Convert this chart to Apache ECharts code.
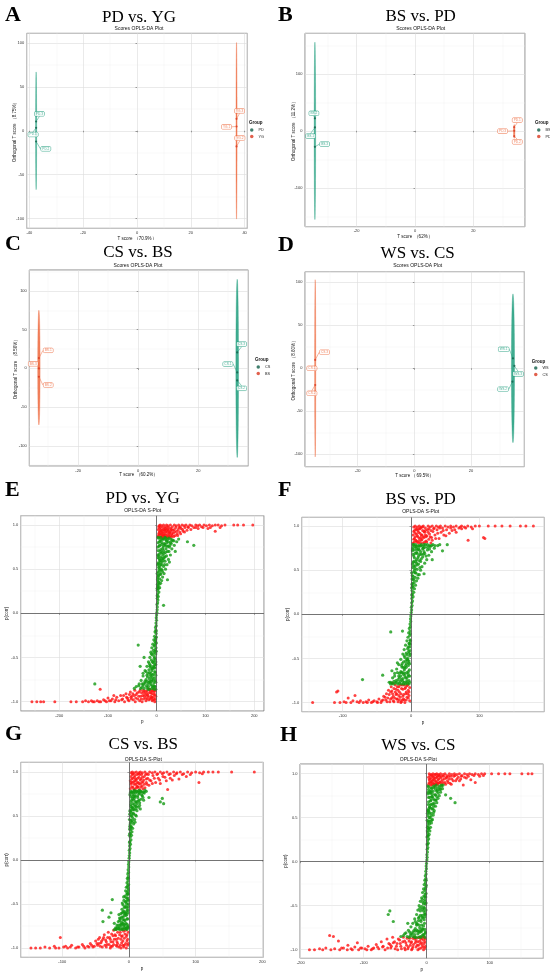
<!DOCTYPE html>
<html>
<head>
<meta charset="utf-8">
<script src="https://cdn.jsdelivr.net/npm/echarts@6/dist/echarts.min.js"></script>
<style>
html, body { margin: 0; padding: 0; background: #fff; }
#wrap { position: relative; width: 550px; height: 976px; overflow: hidden; background: #fff; }
.p { position: absolute; width: 275px; }
</style>
</head>
<body>
<div id="wrap">
  <div class="p" id="pA" style="left:0;top:0;height:240px"></div>
  <div class="p" id="pB" style="left:275px;top:0;height:240px"></div>
  <div class="p" id="pC" style="left:0;top:235px;height:245px"></div>
  <div class="p" id="pD" style="left:275px;top:235px;height:245px"></div>
  <div class="p" id="pE" style="left:0;top:480px;height:245px"></div>
  <div class="p" id="pF" style="left:275px;top:480px;height:245px"></div>
  <div class="p" id="pG" style="left:0;top:725px;height:251px"></div>
  <div class="p" id="pH" style="left:275px;top:725px;height:251px"></div>
</div>
<script>
// ---------- score plots: groups, sample scores [T score, orthogonal T score] ----------
var groupsA = ['PD', 'YG'];
var pointsA_PD = [[-37.5, 10.6], [-37.5, 3.4], [-37.5, -12.2]];
var pointsA_YG = [[37.0, 13.6], [37.0, 4.9], [37.0, -17.8]];
var labelsA_PD = ['PD.3', 'PD.1', 'PD.2'];
var labelsA_YG = ['YG.3', 'YG.1', 'YG.2'];
var ellipseA = [[-37.5, 0, 0.2, 67], [37.0, 0, 0.2, 100.5]]; // cx, cy, half width, half height

var groupsB = ['BS', 'PD'];
var pointsB_BS = [[-34.3, 22], [-34.3, 6], [-34.3, -28]];
var pointsB_PD = [[34.0, 6.5], [34.0, 0], [34.0, -9.3]];
var labelsB_BS = ['BS.2', 'BS.1', 'BS.3'];
var labelsB_PD = ['PD.1', 'PD.3', 'PD.2'];
var ellipseB = [[-34.3, 0, 0.25, 155.5], [34.0, -1, 0.25, 12]];

var groupsC = ['CS', 'BS'];
var pointsC_CS = [[33.0, 20.6], [33.0, -5.2], [33.0, -15.5]];
var pointsC_BS = [[-33.1, 13.3], [-33.1, 0], [-33.1, -10.8]];
var labelsC_CS = ['CS.3', 'CS.1', 'CS.2'];
var labelsC_BS = ['BS.1', 'BS.3', 'BS.2'];
var ellipseC = [[33.0, 0, 0.45, 115], [-33.1, 1, 0.4, 74]];

var groupsD = ['WS', 'CS'];
var pointsD_WS = [[34.8, 11.6], [35.3, 2.7], [34.6, -15.5]];
var pointsD_CS = [[-35.0, 9.7], [-35.0, -0.8], [-35.0, -19.4]];
var labelsD_WS = ['WS.1', 'WS.3', 'WS.2'];
var labelsD_CS = ['CS.3', 'CS.1', 'CS.2'];
var ellipseD = [[34.8, 0, 0.55, 86.5], [-35.0, 0, 0.2, 103]];

// ---------- S-plots: [p, p(corr)] ----------
var splotE_red = [
  [3,0.87],[5,0.92],[6,0.96],[8,0.89],[9,0.94],[11,0.87],[12,0.91],[13,0.97],[15,0.89],[16,0.94],[18,0.86],[19,0.92],
  [21,0.97],[22,0.89],[24,0.94],[26,0.87],[27,0.91],[29,0.96],[31,0.9],[33,0.94],[35,0.87],[37,0.92],[39,0.97],[42,0.9],
  [44,0.95],[47,0.92],[50,0.96],[54,0.93],[58,0.97],[62,0.94],[4,0.98],[7,1.0],[10,0.99],[14,1.0],[17,0.98],[20,1.0],
  [23,0.99],[28,1.0],[32,0.98],[36,1.0],[40,0.99],[45,1.0],[48,0.98],[52,1.0],[56,0.99],[60,1.0],[64,0.98],[68,1.0],
  [72,0.99],[76,0.97],[80,1.0],[84,0.99],[88,1.0],[92,0.98],[97,1.0],[102,0.99],[108,1.0],[114,0.99],[120,1.0],[126,1.0],
  [133,0.99],[140,1.0],[158,1.0],[166,1.0],[178,1.0],[197,1.0],[70,0.95],[85,0.96],[110,0.97],[120,0.93],[4,0.9],[7,0.86],
  [10,0.92],[14,0.88],[17,0.95],[25,0.9],[30,0.86],
  [3,0.95],[4,0.88],[5,0.99],[6,0.9],[7,0.93],[8,0.97],[9,0.86],[10,0.9],[11,0.94],[12,0.88],[13,0.85],[14,0.95],[15,0.92],
  [16,0.87],[17,0.9],[18,0.96],[19,0.88],[20,0.94],[21,0.86],[22,0.92],[23,0.95],[24,0.87],[25,0.97],[26,0.92],[28,0.88],
  [29,0.93],[30,0.95],[32,0.88],[34,0.91],[36,0.95],[38,0.88],[41,0.93],[43,0.88],[46,0.97],[49,0.9],[53,0.95],[57,0.92],
  [65,0.97],[80,0.97],[95,0.97],[105,0.96],[130,0.97],
  [-256,-1],[-246,-1],[-238,-1],[-232,-1],[-209,-1],[-176,-1],[-165,-1],[-152,-1],[-146,-0.99],[-140,-1],[-134,-0.99],
  [-128,-1],[-122,-0.99],[-116,-0.86],[-115,-1],[-109,-0.98],[-103,-1],[-97,-0.99],[-91,-0.97],[-86,-1],[-82,-0.95],
  [-78,-0.99],[-74,-0.93],[-70,-0.97],[-66,-1],[-63,-0.91],[-60,-0.96],[-57,-0.99],[-54,-0.89],[-51,-0.94],[-48,-0.98],
  [-45,-0.87],[-42,-0.92],[-39,-0.97],[-36,-0.89],[-33,-0.94],[-30,-1.0],[-28,-0.87],[-25,-0.91],[-23,-0.96],[-20,-0.88],
  [-18,-0.93],[-16,-0.98],[-14,-0.86],[-12,-0.9],[-10,-0.95],[-8,-0.87],[-6,-0.92],[-5,-0.98],[-3,-0.88],[-2,-0.94],
  [-4,-1.0],[-9,-0.99],[-13,-0.97],[-22,-0.99],[-27,-0.97],[-35,-0.99],[-44,-1.0],[-52,-0.97],[-68,-0.93],[-88,-0.93],[-100,-0.96],
  [-3,-0.97],[-4,-0.92],[-5,-0.86],[-6,-0.89],[-7,-0.95],[-8,-0.98],[-9,-0.88],[-10,-0.91],[-11,-0.96],[-12,-0.94],
  [-13,-0.88],[-15,-0.9],[-16,-0.86],[-17,-0.95],[-19,-0.92],[-20,-0.97],[-21,-0.9],[-22,-0.93],[-24,-0.88],[-26,-0.94],
  [-27,-0.89],[-29,-0.93],[-31,-0.9],[-32,-0.97],[-34,-0.87],[-37,-0.94],[-40,-0.9],[-43,-0.96],[-46,-0.93],[-49,-0.91],
  [-53,-0.95],[-56,-0.92],[-59,-0.98],[-62,-0.95],[-72,-0.98],[-84,-0.98],[-94,-0.99],[-106,-0.99],[-118,-1.0],[-131,-1.0]
];
var splotE_green = [
  [0.3,0.01],[0.8,0.04],[1.2,0.07],[0.6,0.1],[1.8,0.12],[2.5,0.15],[1.2,0.17],[3.2,0.19],[2,0.22],[4.5,0.24],[1.5,0.26],
  [3.5,0.28],[6,0.29],[2.5,0.31],[5,0.33],[8,0.34],[3,0.36],[10,0.37],[6,0.39],[1.8,0.4],[12,0.41],[4,0.43],[8,0.44],
  [15,0.45],[2.5,0.47],[6,0.48],[11,0.49],[18,0.5],[4,0.52],[14,0.53],[8,0.55],[21,0.55],[3,0.57],[11,0.58],[17,0.59],
  [6,0.6],[24,0.61],[13,0.62],[3,0.63],[9,0.64],[20,0.65],[28,0.66],[5,0.67],[15,0.68],[11,0.69],[25,0.7],[3,0.71],
  [8,0.72],[19,0.73],[31,0.73],[13,0.75],[5,0.76],[23,0.76],[36,0.77],[10,0.78],[16,0.79],[28,0.8],[3,0.8],[41,0.81],
  [7,0.82],[20,0.82],[33,0.83],[12,0.84],[25,0.85],[4,0.85],[45,0.84],[17,0.86],[63,0.81],[76,0.77],[22,0.38],[14,0.09],
  [9,0.5],[26,0.58],[38,0.7],
  [1,0.2],[2,0.3],[4,0.35],[7,0.45],[10,0.55],[13,0.6],[5,0.62],[17,0.64],[22,0.7],[7,0.7],[26,0.75],[15,0.77],[30,0.79],
  [19,0.83],[9,0.83],[35,0.82],[2,0.66],[12,0.47],[16,0.55],[21,0.8],[29,0.84],[6,0.77],[14,0.71],[24,0.81],
  [1.5,0.33],[3,0.42],[5,0.5],[2,0.55],[7,0.58],[4,0.65],[9,0.68],[12,0.73],[2,0.75],[17,0.78],[6,0.81],[11,0.8],[23,0.84],
  [14,0.84],[8,0.86],[3,0.86],[18,0.69],[10,0.62],[15,0.63],[27,0.77],[1,0.45],[6,0.53],[20,0.76],[31,0.82],[0.8,0.28],
  [1.5,0.38],[4,0.56],[8,0.6],[13,0.66],[18,0.85],
  [-0.3,-0.02],[-0.9,-0.05],[-0.5,-0.08],[-1.5,-0.11],[-1,-0.14],[-2.5,-0.16],[-1.8,-0.19],[-3.5,-0.21],[-1.2,-0.23],
  [-4.5,-0.26],[-2.5,-0.28],[-6,-0.3],[-3.5,-0.32],[-1.5,-0.34],[-8,-0.35],[-5,-0.37],[-10,-0.39],[-3,-0.41],[-7,-0.42],
  [-12,-0.44],[-2,-0.46],[-9,-0.47],[-5,-0.49],[-14,-0.5],[-3,-0.52],[-11,-0.53],[-17,-0.55],[-7,-0.56],[-2,-0.58],
  [-13,-0.59],[-20,-0.6],[-5,-0.61],[-9,-0.63],[-16,-0.64],[-24,-0.65],[-3,-0.67],[-12,-0.68],[-7,-0.69],[-20,-0.7],
  [-28,-0.71],[-4,-0.73],[-15,-0.74],[-10,-0.75],[-32,-0.76],[-24,-0.77],[-2,-0.78],[-6,-0.79],[-18,-0.8],[-36,-0.8],
  [-12,-0.81],[-28,-0.82],[-3,-0.83],[-42,-0.83],[-8,-0.84],[-20,-0.84],[-33,-0.85],[-15,-0.86],[-46,-0.85],[-5,-0.86],
  [-38,-0.36],[-127,-0.8],[-34,-0.6],[-26,-0.5],[-22,-0.66],
  [-1,-0.2],[-2,-0.3],[-4,-0.36],[-6,-0.45],[-9,-0.55],[-12,-0.62],[-4,-0.62],[-15,-0.67],[-19,-0.72],[-7,-0.76],
  [-24,-0.79],[-13,-0.79],[-30,-0.8],[-17,-0.83],[-9,-0.82],[-37,-0.82],[-2,-0.7],[-11,-0.46],[-15,-0.57],[-22,-0.75],
  [-26,-0.85],[-5,-0.83],[-12,-0.72],[-28,-0.68],
  [-1.5,-0.33],[-3,-0.43],[-5,-0.51],[-2,-0.55],[-7,-0.6],[-4,-0.66],[-9,-0.7],[-11,-0.77],[-3,-0.76],[-16,-0.78],
  [-6,-0.82],[-10,-0.85],[-21,-0.82],[-14,-0.77],[-8,-0.73],[-2,-0.86],[-18,-0.68],[-10,-0.65],[-14,-0.6],[-27,-0.8],
  [-1,-0.43],[-6,-0.54],[-20,-0.77],[-31,-0.84],[-0.8,-0.27],[-1.5,-0.39],[-4,-0.58],[-8,-0.62],[-13,-0.7],[-18,-0.86]
];

var splotF_red = [
  [3,0.81],[5,0.86],[6,0.92],[7,0.97],[8,0.83],[9,0.89],[10,0.95],[11,0.81],[12,0.86],[13,0.92],[14,0.98],[15,0.84],
  [16,0.9],[17,0.95],[18,0.81],[19,0.87],[20,0.93],[22,0.83],[23,0.89],[24,0.96],[26,0.85],[27,0.91],[29,0.81],[30,0.87],
  [32,0.94],[35,0.9],[38,0.96],[41,0.86],[44,0.93],[48,0.9],[52,0.96],[56,0.92],[60,0.95],[66,0.93],[74,0.97],[4,0.99],
  [6,1.0],[9,0.99],[12,1.0],[15,0.99],[18,1.0],[21,0.98],[25,1.0],[28,0.99],[31,1.0],[34,0.98],[37,1.0],[40,0.99],[43,1.0],
  [46,0.98],[50,1.0],[54,0.99],[58,1.0],[62,0.99],[66,1.0],[70,0.98],[74,1.0],[78,0.99],[83,1.0],[88,0.99],[94,1.0],
  [100,1.0],[113,1.0],[123,1.0],[133,1.0],[145,1.0],[160,1.0],[168,1.0],[179,1.0],[83.5,0.84],[106,0.87],[108,0.86],
  [4,0.85],[5,0.95],[8,0.91],[11,0.97],[14,0.87],[21,0.9],
  [3,0.9],[4,0.94],[5,0.82],[6,0.88],[7,0.84],[8,0.96],[9,0.82],[10,0.88],[11,0.93],[12,0.83],[13,0.97],[14,0.81],[15,0.9],
  [16,0.85],[17,0.99],[18,0.88],[19,0.94],[20,0.82],[21,0.95],[22,0.88],[23,0.82],[25,0.93],[26,0.97],[28,0.88],[29,0.95],
  [31,0.84],[33,0.97],[36,0.86],[39,0.92],[42,0.98],[47,0.95],[51,0.89],[58,0.98],[64,0.96],[72,0.99],[80,0.98],[90,0.97],
  [-144,-1],[-112,-1],[-109,-0.88],[-107,-0.87],[-104,-1],[-98,-0.99],[-92,-0.95],[-88,-1],[-82,-0.92],[-79,-0.99],
  [-74,-0.98],[-70,-1],[-66,-0.99],[-62,-0.97],[-58,-1],[-54,-0.98],[-50,-0.99],[-47,-0.96],[-44,-1],[-41,-0.97],
  [-38,-0.94],[-35,-0.99],[-32,-0.91],[-30,-0.96],[-29,-0.82],[-28,-0.87],[-26,-0.93],[-25,-0.99],[-23,-0.8],[-22,-0.85],
  [-21,-0.9],[-20,-0.96],[-18,-0.82],[-17,-0.88],[-16,-0.94],[-15,-1.0],[-13,-0.8],[-12,-0.85],[-11,-0.91],[-10,-0.97],
  [-8,-0.83],[-7,-0.88],[-6,-0.94],[-5,-0.8],[-4,-0.86],[-3,-0.92],[-2,-0.98],[-9,-1.0],[-14,-0.99],[-19,-0.99],
  [-27,-0.78],[-33,-0.86],[-36,-0.9],[-40,-0.93],[-13,-0.97],
  [-2,-0.83],[-3,-0.88],[-4,-0.95],[-5,-0.9],[-6,-0.81],[-7,-0.97],[-8,-0.9],[-9,-0.84],[-10,-0.8],[-11,-0.96],[-12,-0.93],
  [-14,-0.84],[-15,-0.9],[-16,-0.8],[-17,-0.97],[-18,-0.92],[-19,-0.86],[-20,-0.82],[-21,-0.96],[-22,-0.91],[-23,-0.88],
  [-24,-0.95],[-25,-0.84],[-26,-0.98],[-27,-0.9],[-28,-0.95],[-30,-0.88],[-31,-0.99],[-34,-0.95],[-37,-0.97],[-43,-0.98],
  [-49,-1.0],[-56,-0.99],[-64,-1.0],[-76,-1.0],[-85,-0.98],[-95,-1.0]
];
var splotF_green = [
  [0.3,0.02],[0.8,0.05],[0.5,0.08],[1.5,0.1],[1,0.13],[2.2,0.15],[1.2,0.18],[3,0.2],[2,0.23],[4,0.25],[1.5,0.27],[5,0.29],
  [3,0.31],[6.5,0.33],[2,0.35],[4.5,0.36],[8,0.38],[3,0.4],[10,0.41],[6,0.42],[1.8,0.44],[12,0.45],[7,0.47],[19,0.46],
  [4,0.48],[14,0.5],[9,0.51],[2.5,0.53],[16,0.54],[6,0.55],[11,0.57],[20,0.58],[3.5,0.59],[14,0.6],[8,0.62],[23,0.62],
  [5,0.64],[17,0.65],[11,0.66],[26,0.67],[3,0.68],[20,0.69],[8,0.7],[14,0.71],[30,0.71],[5,0.73],[24,0.73],[11,0.74],
  [34,0.75],[18,0.75],[3,0.76],[8,0.77],[28,0.77],[39,0.78],[14,0.78],[21,0.79],[4,0.79],[42,0.79],[46,0.72],[53,0.79],
  [31,0.62],
  [1,0.22],[2,0.32],[4,0.39],[6,0.47],[9,0.56],[12,0.61],[4,0.6],[15,0.68],[19,0.71],[6,0.69],[24,0.76],[12,0.77],[30,0.78],
  [17,0.77],[9,0.73],[35,0.78],[2,0.72],[10,0.45],[13,0.53],[22,0.66],[27,0.74],[7,0.79],
  [1.5,0.34],[3,0.43],[5,0.5],[2,0.57],[7,0.6],[4,0.66],[9,0.69],[12,0.73],[2,0.74],[17,0.74],[6,0.77],[11,0.78],[24,0.79],
  [15,0.79],[8,0.75],[3,0.79],[18,0.68],[10,0.64],[15,0.63],[27,0.78],[1,0.47],[6,0.52],[20,0.76],[32,0.79],[0.8,0.3],
  [1.5,0.4],[4,0.55],[8,0.58],[13,0.68],[19,0.79],
  [-0.3,-0.02],[-0.8,-0.05],[-0.5,-0.08],[-1.5,-0.11],[-1,-0.14],[-2.5,-0.16],[-1.5,-0.19],[-3.5,-0.21],[-29.7,-0.2],
  [-12.5,-0.19],[-2,-0.24],[-4.5,-0.26],[-1.5,-0.29],[-6,-0.3],[-3,-0.33],[-8,-0.35],[-2,-0.37],[-5,-0.39],[-10,-0.4],
  [-3.5,-0.42],[-7,-0.44],[-12,-0.45],[-2,-0.47],[-9,-0.49],[-5,-0.5],[-15,-0.51],[-3,-0.53],[-11,-0.54],[-7,-0.56],
  [-18,-0.57],[-4,-0.58],[-13,-0.6],[-9,-0.61],[-21,-0.62],[-2.5,-0.63],[-15,-0.65],[-6,-0.66],[-24,-0.67],[-11,-0.68],
  [-4,-0.7],[-18,-0.7],[-27,-0.72],[-8,-0.72],[-14,-0.74],[-3,-0.75],[-22,-0.75],[-30,-0.77],[-10,-0.77],[-5,-0.78],
  [-17,-0.78],[-26,-0.79],[-41.5,-0.69],[-71,-0.74],[-20,-0.55],[-28,-0.64],
  [-1,-0.22],[-2,-0.33],[-4,-0.37],[-6,-0.46],[-8,-0.53],[-11,-0.6],[-4,-0.65],[-14,-0.66],[-17,-0.72],[-6,-0.72],
  [-21,-0.77],[-12,-0.76],[-28,-0.78],[-15,-0.7],[-9,-0.67],[-32,-0.77],[-2,-0.7],[-10,-0.47],[-13,-0.56],[-20,-0.66],
  [-24,-0.7],[-7,-0.77],
  [-1.5,-0.34],[-3,-0.44],[-5,-0.52],[-2,-0.56],[-7,-0.6],[-4,-0.68],[-9,-0.7],[-12,-0.73],[-2,-0.77],[-16,-0.76],
  [-6,-0.75],[-11,-0.79],[-23,-0.78],[-14,-0.79],[-8,-0.79],[-3,-0.79],[-17,-0.67],[-10,-0.63],[-14,-0.58],[-25,-0.76],
  [-1,-0.45],[-6,-0.51],[-19,-0.74],[-30,-0.79],[-0.8,-0.3],[-1.5,-0.41],[-4,-0.55],[-8,-0.58],[-12,-0.66],[-19,-0.79]
];

var splotG_red = [
  [2,0.81],[3,0.86],[4,0.92],[5,0.97],[6,0.83],[7,0.89],[8,0.94],[9,0.8],[10,0.86],[11,0.91],[12,0.97],[13,0.83],[14,0.88],
  [15,0.94],[16,0.8],[17,0.86],[18,0.92],[19,0.97],[20,0.84],[21,0.89],[23,0.95],[24,0.82],[26,0.88],[28,0.93],[30,0.85],
  [33,0.9],[36,0.96],[40,0.88],[44,0.93],[47,0.87],[51,0.95],[56,0.9],[58,0.8],[62,0.93],[68,0.96],[75,0.92],[86,0.95],
  [105,0.88],[3,0.99],[5,1.0],[8,0.99],[11,1.0],[14,0.98],[17,1.0],[20,0.99],[24,1.0],[27,0.98],[31,1.0],[35,0.99],[39,1.0],
  [43,0.98],[47,1.0],[52,0.99],[57,1.0],[62,0.98],[67,1.0],[72,0.99],[77,1.0],[82,0.98],[88,1.0],[94,0.99],[100,1.0],
  [106,0.99],[112,1.0],[119,1.0],[126,1.0],[134,1.0],[154,1.0],[188,1.0],[3,0.88],[6,0.93],[9,0.9],[12,0.84],[15,0.99],
  [2,0.9],[3,0.95],[4,0.83],[5,0.88],[6,0.98],[7,0.81],[8,0.86],[9,0.96],[10,0.92],[11,0.82],[12,0.88],[13,0.93],[14,0.83],
  [15,0.87],[16,0.97],[17,0.91],[18,0.83],[19,0.88],[20,0.94],[21,0.81],[22,0.91],[23,0.86],[25,0.97],[26,0.92],[27,0.86],
  [29,0.97],[31,0.91],[35,0.87],[38,0.93],[42,0.97],[46,0.91],[50,0.98],[54,0.94],[60,0.97],[65,0.91],[71,0.98],[80,0.97],
  [92,0.97],[110,0.98],
  [-147,-1],[-140,-1],[-133,-1],[-126,-0.99],[-119,-1],[-112,-0.98],[-103,-0.88],[-105,-1],[-98,-0.99],[-92,-1],
  [-86,-0.97],[-80,-1],[-75,-0.99],[-70,-0.96],[-66,-1],[-62,-0.98],[-58,-0.95],[-54,-0.99],[-50,-0.92],[-47,-0.97],
  [-44,-0.88],[-42,-0.94],[-40,-0.99],[-37,-0.85],[-35,-0.91],[-33,-0.96],[-31,-0.82],[-29,-0.88],[-27,-0.93],[-25,-0.98],
  [-23,-0.8],[-21,-0.85],[-19,-0.9],[-17,-0.95],[-15,-0.99],[-13,-0.82],[-11,-0.87],[-9,-0.92],[-7,-0.97],[-5,-0.8],
  [-3,-0.85],[-2,-0.9],[-1,-0.95],[-4,-1.0],[-8,-0.99],[-12,-1.0],[-18,-0.98],[-24,-0.86],[-28,-1.0],[-34,-0.99],
  [-39,-0.9],[-45,-0.95],[-20,-0.79],[-10,-0.79],
  [-1,-0.82],[-2,-0.97],[-3,-0.92],[-4,-0.87],[-5,-0.95],[-6,-0.84],[-7,-0.89],[-8,-0.81],[-9,-0.97],[-10,-0.86],[-11,-0.94],
  [-12,-0.9],[-13,-0.97],[-14,-0.85],[-16,-0.89],[-17,-0.82],[-18,-0.93],[-19,-0.97],[-20,-0.86],[-22,-0.9],[-23,-0.96],
  [-24,-0.93],[-26,-0.84],[-27,-0.98],[-28,-0.9],[-30,-0.96],[-32,-0.88],[-34,-0.93],[-36,-0.97],[-38,-0.88],[-41,-0.92],
  [-43,-0.98],[-46,-0.9],[-48,-0.95],[-52,-0.98],[-56,-0.97],[-60,-0.99],[-68,-0.98],[-77,-0.99],[-88,-0.99],[-95,-0.98],
  [-110,-1.0]
];
var splotG_green = [
  [0.3,0.02],[0.6,0.05],[1,0.08],[0.5,0.11],[1.6,0.13],[1,0.16],[2.2,0.18],[1.4,0.21],[3,0.23],[2,0.26],[3.8,0.28],
  [1.5,0.3],[4.5,0.32],[2.5,0.34],[5.5,0.36],[3.5,0.38],[1.8,0.4],[7,0.41],[4.5,0.43],[2.5,0.45],[8.5,0.46],[5.5,0.48],
  [3,0.5],[10,0.51],[6.5,0.53],[2,0.55],[12,0.56],[8,0.57],[4,0.59],[14,0.6],[9.5,0.61],[2.5,0.63],[6,0.64],[16,0.65],
  [11,0.66],[4,0.68],[18,0.69],[8,0.7],[13,0.71],[2.5,0.72],[20,0.73],[6,0.74],[15,0.75],[10,0.76],[23,0.76],[4,0.77],
  [18,0.78],[12,0.78],[26,0.78],[8,0.78],[30,0.71],[50,0.7],[52,0.64],[47,0.66],[22,0.68],[17,0.58],
  [0.8,0.2],[1.8,0.3],[3,0.37],[5,0.45],[7,0.52],[10,0.58],[3,0.61],[12,0.64],[15,0.68],[5,0.7],[19,0.74],[9,0.73],
  [22,0.77],[14,0.77],[7,0.76],[2,0.76],[1.2,0.52],[9,0.43],[11,0.5],[16,0.62],[21,0.71],[6,0.57],
  [1,0.35],[2,0.42],[4,0.5],[1.5,0.56],[5,0.6],[3,0.66],[7,0.68],[9,0.72],[1.5,0.74],[13,0.73],[5,0.77],[8,0.79],[17,0.78],
  [11,0.78],[6,0.72],[3,0.78],[14,0.67],[8,0.63],[11,0.61],[20,0.77],[0.8,0.46],[4,0.53],[16,0.76],[24,0.79],[0.6,0.28],
  [1.2,0.38],[3,0.56],[6,0.59],[10,0.66],[15,0.79],
  [-0.3,-0.02],[-0.7,-0.05],[-0.4,-0.08],[-1.2,-0.11],[-0.8,-0.14],[-1.8,-0.16],[-1,-0.19],[-2.5,-0.21],[-1.5,-0.24],
  [-3,-0.26],[-2,-0.29],[-4,-0.31],[-1,-0.33],[-5,-0.35],[-3,-0.37],[-1.5,-0.39],[-6,-0.41],[-4,-0.43],[-2,-0.45],
  [-7.5,-0.46],[-5,-0.48],[-25,-0.45],[-1,-0.5],[-9,-0.51],[-6,-0.53],[-3,-0.55],[-10.5,-0.56],[-27,-0.6],[-39.9,-0.57],
  [-7.5,-0.58],[-1.5,-0.6],[-12,-0.61],[-4.5,-0.63],[-9,-0.65],[-14,-0.66],[-2,-0.67],[-39,-0.7],[-6,-0.69],[-16,-0.7],
  [-11,-0.71],[-3,-0.73],[-18,-0.74],[-8,-0.75],[-13,-0.76],[-20,-0.77],[-1,-0.77],[-5,-0.78],[-15,-0.78],[-10,-0.78],
  [-22,-0.72],[-30,-0.65],
  [-0.8,-0.21],[-1.8,-0.31],[-3,-0.39],[-4.5,-0.47],[-7,-0.54],[-9,-0.59],[-3,-0.62],[-11,-0.65],[-14,-0.69],[-5,-0.72],
  [-17,-0.76],[-9,-0.73],[-19,-0.79],[-12,-0.74],[-7,-0.77],[-2,-0.76],[-1,-0.53],[-8,-0.42],[-10,-0.49],[-15,-0.62],
  [-3,-0.79],[-6,-0.61],
  [-1,-0.35],[-2,-0.43],[-3.5,-0.5],[-1.5,-0.57],[-5,-0.6],[-3,-0.67],[-7,-0.68],[-9,-0.72],[-1.5,-0.75],[-12,-0.73],
  [-4.5,-0.77],[-8,-0.79],[-16,-0.78],[-11,-0.79],[-6,-0.74],[-3,-0.78],[-13,-0.67],[-7,-0.63],[-10,-0.6],[-19,-0.78],
  [-0.8,-0.46],[-4,-0.53],[-15,-0.74],[-22,-0.79],[-0.6,-0.28],[-1.2,-0.38],[-3,-0.58],[-6,-0.6],[-9,-0.68],[-14,-0.79]
];

var splotH_red = [
  [3,0.88],[4,0.93],[5,0.98],[6,0.9],[7,0.95],[8,0.87],[9,0.92],[10,0.97],[11,0.89],[12,0.94],[13,0.88],[14,0.99],
  [15,0.91],[16,0.96],[17,0.88],[18,0.93],[19,0.98],[21,0.9],[22,0.95],[24,0.88],[25,0.93],[27,0.97],[29,0.9],[31,0.95],
  [33,0.92],[35,0.97],[37,0.89],[40,0.94],[43,0.97],[46,0.92],[50,0.96],[54,0.94],[58,0.87],[63,0.95],[70,0.93],[77,0.9],
  [4,1.0],[7,0.99],[10,1.0],[13,0.99],[16,1.0],[19,0.99],[22,1.0],[26,0.99],[29,1.0],[32,0.98],[36,1.0],[40,0.99],[44,1.0],
  [48,0.99],[52,1.0],[56,0.98],[60,1.0],[64,0.99],[68,1.0],[72,0.99],[77,1.0],[82,0.99],[87,1.0],[92,1.0],[103,1.0],
  [114,1.0],[124,1.0],[132,1.0],[151,1.0],[161,1.0],[167,1.0],
  [3,0.96],[4,0.9],[5,0.94],[6,0.87],[7,0.91],[8,0.98],[9,0.89],[10,0.93],[11,0.96],[12,0.88],[13,0.92],[14,0.95],[15,0.87],
  [16,0.9],[17,0.97],[18,0.89],[19,0.94],[20,0.9],[21,0.97],[23,0.91],[24,0.97],[26,0.9],[28,0.94],[30,0.88],[32,0.96],
  [34,0.9],[36,0.94],[38,0.97],[39,0.88],[42,0.92],[45,0.98],[48,0.94],[52,0.92],[55,0.97],[60,0.96],[66,0.97],[75,0.98],
  [84,0.97],[90,0.98],
  [-186,-1],[-178,-1],[-170,-0.99],[-165,-1],[-160,-0.98],[-154,-0.84],[-148,-0.85],[-140,-0.9],[-152,-1],[-146,-0.99],
  [-138,-1],[-132,-0.98],[-126,-1],[-120,-0.99],[-114,-0.97],[-108,-1],[-103,-0.98],[-98,-0.99],[-93,-0.96],[-88,-1],
  [-84,-0.98],[-80,-0.94],[-76,-0.99],[-72,-0.91],[-69,-0.96],[-66,-1],[-63,-0.88],[-60,-0.93],[-57,-0.98],[-54,-0.86],
  [-51,-0.91],[-48,-0.96],[-45,-0.88],[-42,-0.93],[-40,-0.99],[-37,-0.86],[-35,-0.9],[-32,-0.95],[-30,-0.99],[-27,-0.87],
  [-25,-0.92],[-22,-0.97],[-20,-0.86],[-17,-0.9],[-15,-0.95],[-12,-0.99],[-10,-0.87],[-8,-0.92],[-6,-0.97],[-4,-0.86],
  [-3,-0.91],[-2,-0.96],[-5,-1.0],[-14,-1.0],[-24,-1.0],[-34,-1.0],[-46,-1.0],[-58,-0.94],[-110,-0.92],[-125,-0.95],
  [-2,-0.88],[-3,-0.98],[-4,-0.93],[-5,-0.89],[-6,-0.86],[-7,-0.95],[-8,-0.88],[-9,-0.98],[-10,-0.93],[-11,-0.9],
  [-12,-0.86],[-13,-0.95],[-14,-0.91],[-16,-0.87],[-17,-0.97],[-18,-0.92],[-19,-0.88],[-21,-0.94],[-22,-0.87],[-23,-0.99],
  [-24,-0.91],[-26,-0.95],[-28,-0.9],[-29,-0.97],[-31,-0.87],[-33,-0.92],[-35,-0.98],[-38,-0.91],[-41,-0.96],[-43,-0.89],
  [-47,-0.93],[-50,-0.99],[-53,-0.92],[-56,-0.96],[-62,-0.98],[-70,-0.97],[-78,-0.97],[-86,-0.99],[-95,-1.0],[-105,-0.98],
  [-118,-1.0],[-135,-0.98]
];
var splotH_green = [
  [0.3,0.02],[0.7,0.05],[0.4,0.08],[1.2,0.11],[0.8,0.14],[1.8,0.16],[1,0.19],[2.5,0.21],[1.5,0.24],[3.2,0.26],[2,0.29],
  [4,0.31],[1.4,0.33],[5,0.35],[3,0.37],[6,0.39],[2,0.41],[4.5,0.43],[7.5,0.44],[3,0.46],[9,0.48],[5.5,0.5],[2,0.52],
  [10.5,0.53],[7,0.55],[3.5,0.57],[12,0.58],[8.5,0.6],[4.5,0.62],[14,0.63],[2.5,0.65],[10,0.66],[16,0.67],[6,0.69],
  [12,0.7],[18,0.72],[3,0.73],[8,0.74],[20,0.75],[14,0.76],[5,0.78],[22,0.79],[10,0.8],[17,0.81],[3,0.82],[25,0.83],
  [7,0.84],[13,0.85],[20,0.86],[2,0.86],[26,0.87],[45,0.67],[38,0.72],[30,0.76],
  [0.8,0.2],[1.8,0.3],[3,0.38],[5,0.46],[7,0.52],[10,0.6],[3,0.6],[12,0.66],[15,0.7],[5,0.73],[18,0.78],[9,0.77],[22,0.82],
  [14,0.82],[7,0.8],[2,0.79],[1.2,0.55],[8,0.47],[11,0.56],[16,0.74],[21,0.84],[6,0.65],[24,0.86],[11,0.86],
  [1,0.35],[2,0.44],[4,0.5],[1.5,0.58],[5,0.62],[3,0.68],[7,0.7],[9,0.74],[1.5,0.77],[13,0.76],[5,0.8],[8,0.83],[17,0.84],
  [11,0.84],[6,0.78],[3,0.85],[14,0.7],[8,0.65],[11,0.63],[20,0.82],[0.8,0.47],[4,0.55],[16,0.8],[23,0.87],[0.6,0.28],
  [1.2,0.39],[3,0.58],[6,0.61],[10,0.72],[15,0.87],
  [-0.3,-0.02],[-0.8,-0.05],[-0.5,-0.08],[-1.4,-0.11],[-1,-0.14],[-2.2,-0.16],[-1.3,-0.19],[-3,-0.21],[-2,-0.24],
  [-4,-0.26],[-1.5,-0.29],[-5,-0.31],[-3,-0.33],[-6.5,-0.35],[-2,-0.37],[-4.5,-0.39],[-8,-0.41],[-3,-0.43],[-10,-0.45],
  [-6,-0.46],[-2,-0.48],[-12,-0.5],[-8,-0.51],[-4,-0.53],[-14,-0.55],[-10,-0.56],[-58.5,-0.56],[-61,-0.6],[-3,-0.58],
  [-16,-0.6],[-7,-0.61],[-12,-0.63],[-19,-0.65],[-4,-0.66],[-53,-0.68],[-9,-0.68],[-22,-0.7],[-15,-0.71],[-5,-0.73],
  [-25,-0.74],[-11,-0.75],[-18,-0.76],[-3,-0.77],[-29,-0.78],[-8,-0.79],[-22,-0.8],[-33,-0.81],[-14,-0.82],[-4,-0.83],
  [-37,-0.84],[-26,-0.84],[-10,-0.85],[-41,-0.85],[-19,-0.86],[-30,-0.7],
  [-0.8,-0.21],[-1.8,-0.31],[-3,-0.4],[-5,-0.48],[-7,-0.54],[-10,-0.61],[-3,-0.63],[-13,-0.67],[-16,-0.72],[-6,-0.77],
  [-20,-0.78],[-10,-0.8],[-25,-0.82],[-15,-0.78],[-7,-0.84],[-2,-0.81],[-1.2,-0.55],[-7,-0.43],[-11,-0.53],[-18,-0.68],
  [-27,-0.8],[-31,-0.85],[-35,-0.82],[-22,-0.85],[-13,-0.86],
  [-1.2,-0.36],[-2.5,-0.45],[-4,-0.52],[-2,-0.6],[-6,-0.64],[-3.5,-0.7],[-8,-0.72],[-10,-0.78],[-2,-0.8],[-14,-0.79],
  [-5.5,-0.83],[-9,-0.86],[-19,-0.83],[-12,-0.8],[-7,-0.76],[-3,-0.86],[-16,-0.7],[-9,-0.66],[-13,-0.64],[-23,-0.82],
  [-1,-0.47],[-5,-0.56],[-18,-0.79],[-28,-0.86],[-0.6,-0.27],[-1.5,-0.4],[-3.5,-0.6],[-7,-0.63],[-12,-0.72],[-17,-0.86]
];

// ---------- layout and style ----------
var SANS = 'Liberation Sans';
var SERIF = 'Liberation Serif';
var GREEN = '#1f9e7d', GREEN_DARK = '#0f5e47';
var ORANGE = '#ee6a3f', ORANGE_DARK = '#d9381f';
var S_RED = '#ff1414', S_GREEN = '#139a13';

var scorePanels = [
  { id: 'pA', letter: 'A', title: 'PD vs. YG', lx: 5, ly: 15.5, tx: 139, ty: 18, sy: 29,
    grid: { left: 26.7, top: 33.3, width: 220.6, height: 195 }, xr: [-41, 41], yr: [-111, 111],
    xname: 'T score \uFF0870.9%\uFF09', yname: 'Orthogonal T score \uFF088.75%\uFF09', xgap: 7.5, ygap: 9.5,
    groups: groupsA, pts: [pointsA_PD, pointsA_YG], labels: [labelsA_PD, labelsA_YG], ell: ellipseA,
    offs: [[[3.3, -7.7], [-3, 6.7], [9.7, 7.3]], [[3, -8], [-10, 0.3], [3.3, -8.4]]],
    gx: 249, gy: 123, lgx: 250, lgy: 128 },
  { id: 'pB', letter: 'B', title: 'BS vs. PD', lx: 3, ly: 15.5, tx: 145.7, ty: 17, sy: 29,
    grid: { left: 30, top: 33.3, width: 220, height: 193.4 }, xr: [-37.7, 37.7], yr: [-168, 171],
    xname: 'T score \uFF0862%\uFF09', yname: 'Orthogonal T score \uFF0811.2%\uFF09', xgap: 8, ygap: 8.7,
    groups: groupsB, pts: [pointsB_BS, pointsB_PD], labels: [labelsB_BS, labelsB_PD], ell: ellipseB,
    offs: [[[-1, -5], [-4.3, 8.7], [9.7, -2.7]], [[3, -7], [-11.6, 0.3], [3, 5.7]]],
    gx: 260, gy: 123, lgx: 262, lgy: 128 },
  { id: 'pC', letter: 'C', title: 'CS vs. BS', lx: 5, ly: 9.5, tx: 138, ty: 18, sy: 30.7,
    grid: { left: 29.3, top: 35, width: 219, height: 196 }, xr: [-36.3, 36.7], yr: [-126, 127],
    xname: 'T score \uFF0860.2%\uFF09', yname: 'Orthogonal T score \uFF088.56%\uFF09', xgap: 6.5, ygap: 11,
    groups: groupsC, pts: [pointsC_CS, pointsC_BS], labels: [labelsC_CS, labelsC_BS], ell: ellipseC,
    offs: [[[4.4, -8.3], [-9.3, -8.3], [4.4, 8]], [[9.3, -7.7], [-5.7, -4.6], [9.3, 8.3]]],
    gx: 255, gy: 124.3, lgx: 256.5, lgy: 130 },
  { id: 'pD', letter: 'D', title: 'WS vs. CS', lx: 3, ly: 10.5, tx: 142.7, ty: 19, sy: 31,
    grid: { left: 30, top: 36.7, width: 219.3, height: 195 }, xr: [-38.6, 38.8], yr: [-114.4, 112.3],
    xname: 'T score \uFF0869.5%\uFF09', yname: 'Orthogonal T score \uFF088.60%\uFF09', xgap: 7, ygap: 8.7,
    groups: groupsD, pts: [pointsD_WS, pointsD_CS], labels: [labelsD_WS, labelsD_CS], ell: ellipseD,
    offs: [[[-9.3, -9], [3.7, 8], [-9.3, 7.6]], [[9.3, -7.7], [-3.3, -0.7], [-3.3, 8.3]]],
    gx: 256.7, gy: 126.7, lgx: 259, lgy: 131 }
];

var sPanels = [
  { id: 'pE', letter: 'E', title: 'PD vs. YG', lx: 5, ly: 10, tx: 142.7, ty: 19, sy: 31,
    grid: { left: 20.7, top: 35.7, width: 243.3, height: 195.3 }, xr: [-279, 220], yr: [-1.106, 1.105],
    red: splotE_red, green: splotE_green },
  { id: 'pF', letter: 'F', title: 'BS vs. PD', lx: 3, ly: 10, tx: 145.7, ty: 20, sy: 31.7,
    grid: { left: 26.7, top: 37.3, width: 242.6, height: 194.4 }, xr: [-160, 195], yr: [-1.104, 1.1],
    red: splotF_red, green: splotF_green },
  { id: 'pG', letter: 'G', title: 'CS vs. BS', lx: 5, ly: 9.5, tx: 143.3, ty: 20, sy: 34.3,
    grid: { left: 20.7, top: 37.3, width: 242.6, height: 195 }, xr: [-162.4, 201.5], yr: [-1.106, 1.11],
    red: splotG_red, green: splotG_green },
  { id: 'pH', letter: 'H', title: 'WS vs. CS', lx: 5, ly: 10, tx: 143.3, ty: 21, sy: 34.3,
    grid: { left: 25, top: 39, width: 243.3, height: 194.3 }, xr: [-201, 185], yr: [-1.098, 1.11],
    red: splotH_red, green: splotH_green }
];

function headTitles(c, sub) {
  return [
    { text: c.letter, left: c.lx, top: c.ly, padding: 0, textVerticalAlign: 'middle',
      textStyle: { fontFamily: SERIF, fontWeight: 'bold', fontSize: 22, color: '#000' } },
    { text: c.title, left: c.tx, top: c.ty, padding: 0, textAlign: 'center', textVerticalAlign: 'middle',
      textStyle: { fontFamily: SERIF, fontWeight: 'normal', fontSize: 17, color: '#000' } },
    { text: sub, left: c.tx, top: c.sy, padding: 0, textAlign: 'center', textVerticalAlign: 'middle',
      textStyle: { fontFamily: SANS, fontWeight: 'normal', fontSize: 5, color: '#111' } }
  ];
}

function valueAxis(range, name, gap, fmt) {
  return {
    type: 'value', min: range[0], max: range[1], splitNumber: 4,
    name: name, nameLocation: 'middle', nameGap: gap, nameMoveOverlap: false,
    nameTextStyle: { fontFamily: SANS, fontSize: 4.5, color: '#111' },
    axisLine: { show: false },
    axisTick: { show: true, length: 1.5, lineStyle: { color: '#444', width: 0.5 } },
    axisLabel: { fontFamily: SANS, fontSize: 4, color: '#333', margin: 2.5,
      showMinLabel: false, showMaxLabel: false, formatter: fmt },
    splitLine: { show: true, lineStyle: { color: '#dcdcdc', width: 0.6 } },
    minorTick: { show: false, splitNumber: 2 },
    minorSplitLine: { show: true, lineStyle: { color: '#eeeeee', width: 0.4 } }
  };
}

function gridOf(g) {
  return { left: g.left, top: g.top, width: g.width, height: g.height, outerBoundsMode: 'none',
    show: true, borderColor: '#6a6a6a', borderWidth: 0.8, backgroundColor: '#fff', containLabel: false };
}

function groupSeries(name, pts, labels, col, dark, offs) {
  return {
    type: 'scatter', name: name, symbolSize: 2.2, z: 4,
    itemStyle: { color: dark },
    data: pts.map(function (p, i) { return { name: labels[i], value: p }; }),
    label: { show: true, position: 'inside', formatter: '{b}', fontFamily: SANS, fontSize: 3.2,
      color: col, backgroundColor: '#fff', borderColor: col, borderWidth: 0.5, borderRadius: 1,
      padding: [0.8, 1.3, 0.5, 1.3] },
    labelLayout: function (p) { var o = offs[p.dataIndex]; return { dx: o[0], dy: o[1] }; },
    labelLine: { show: true, lineStyle: { color: col, width: 0.5 } }
  };
}

scorePanels.forEach(function (c) {
  var chart = echarts.init(document.getElementById(c.id));
  var cols = [GREEN, ORANGE];
  var titles = headTitles(c, 'Scores OPLS-DA Plot');
  titles.push({ text: 'Group', left: c.gx, top: c.gy, padding: 0, textVerticalAlign: 'middle',
    textStyle: { fontFamily: SANS, fontWeight: 'bold', fontSize: 4.5, color: '#111' } });
  chart.setOption({
    animation: false,
    title: titles,
    legend: { orient: 'vertical', left: c.lgx, top: c.lgy, padding: 0, itemGap: 2.5,
      itemWidth: 3.5, itemHeight: 3.5, icon: 'circle', data: c.groups,
      textStyle: { fontFamily: SANS, fontSize: 3.8, color: '#222' } },
    grid: gridOf(c.grid),
    xAxis: valueAxis(c.xr, c.xname, c.xgap),
    yAxis: valueAxis(c.yr, c.yname, c.ygap),
    series: [
      { type: 'custom', name: 'ellipse', silent: true, z: 3,
        data: c.ell,
        renderItem: function (params, api) {
          var ctr = api.coord([api.value(0), api.value(1)]);
          var sz = api.size([api.value(2), api.value(3)]);
          var col = cols[params.dataIndex];
          return { type: 'ellipse', shape: { cx: ctr[0], cy: ctr[1], rx: sz[0], ry: sz[1] },
            style: { fill: col, opacity: 0.85, stroke: col, lineWidth: 0.4 } };
        } },
      groupSeries(c.groups[0], c.pts[0], c.labels[0], GREEN, GREEN_DARK, c.offs[0]),
      groupSeries(c.groups[1], c.pts[1], c.labels[1], ORANGE, ORANGE_DARK, c.offs[1])
    ]
  });
});

sPanels.forEach(function (c) {
  var chart = echarts.init(document.getElementById(c.id));
  chart.setOption({
    animation: false,
    title: headTitles(c, 'OPLS-DA S-Plot'),
    grid: gridOf(c.grid),
    xAxis: valueAxis(c.xr, 'p', 8.5),
    yAxis: valueAxis(c.yr, 'p(corr)', 11.5, function (v) { return v.toFixed(1); }),
    series: [
      { type: 'scatter', name: 'red', symbolSize: 3, z: 3, itemStyle: { color: S_RED },
        data: c.red,
        markLine: { silent: true, symbol: 'none', label: { show: false },
          lineStyle: { color: '#555', width: 0.8, type: 'solid' },
          data: [{ xAxis: 0 }, { yAxis: 0 }] } },
      { type: 'scatter', name: 'green', symbolSize: 3.2, z: 4, itemStyle: { color: S_GREEN },
        data: c.green }
    ]
  });
});
</script>
</body>
</html>
